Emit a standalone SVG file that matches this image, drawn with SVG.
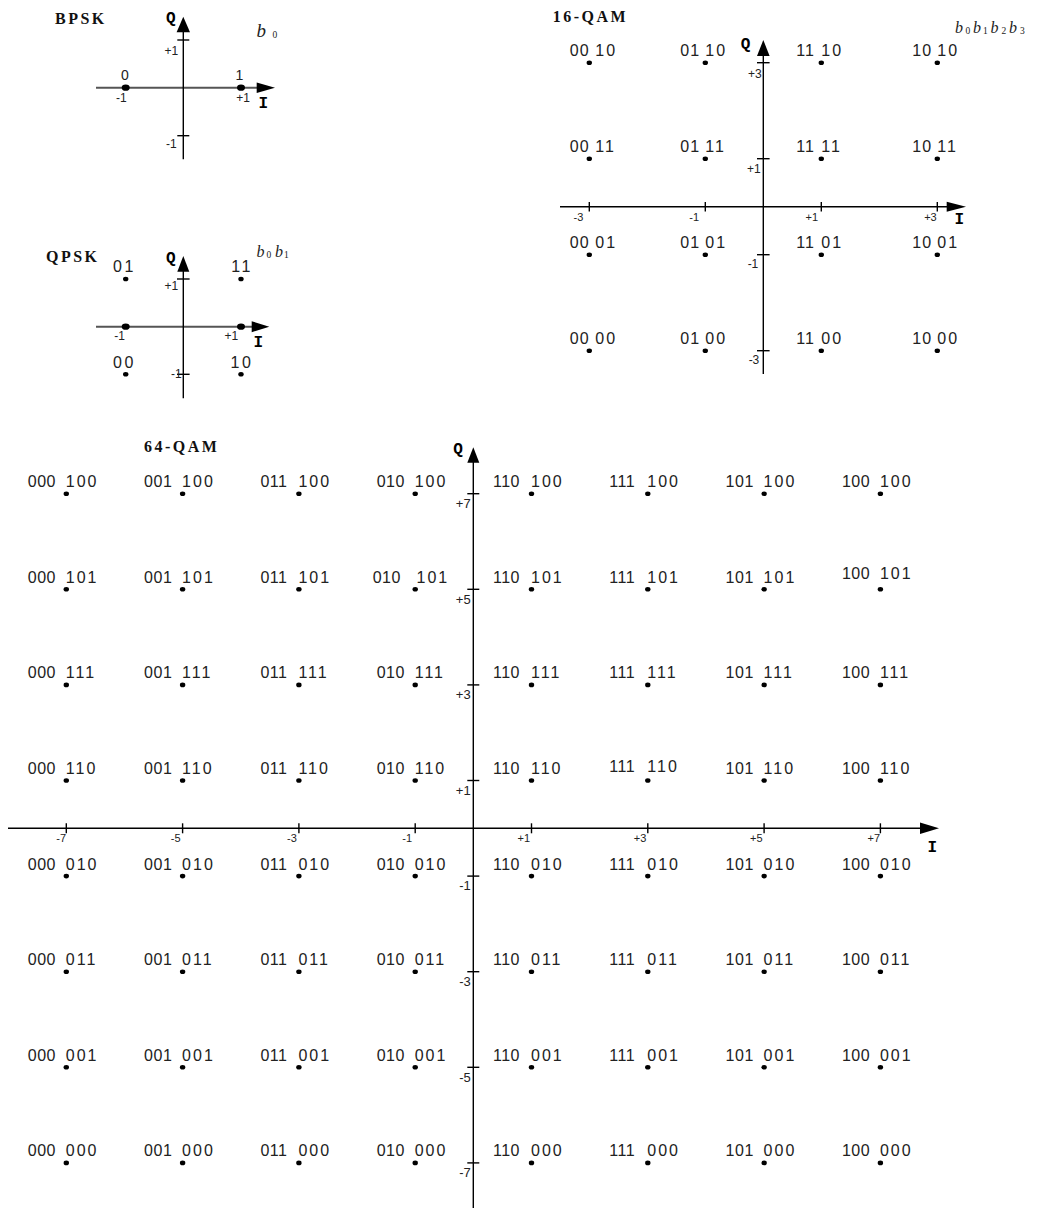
<svg xmlns="http://www.w3.org/2000/svg" width="1038" height="1209" viewBox="0 0 1038 1209">
<style>
.l{font-family:"Liberation Sans",Arial,sans-serif;font-size:16px;fill:#222}
.a{letter-spacing:0.5px}
.b{letter-spacing:2px}
.a2{letter-spacing:1px}
.ql{font-family:"Liberation Sans",Arial,sans-serif;font-size:16px;fill:#222;letter-spacing:2.5px;text-anchor:middle}
.tk{font-family:"Liberation Sans",Arial,sans-serif;font-size:12px;fill:#222;text-anchor:end}
.tq{font-family:"Liberation Sans",Arial,sans-serif;font-size:13px;fill:#222;text-anchor:end}
.ti{font-family:"Liberation Sans",Arial,sans-serif;font-size:11px;fill:#222;text-anchor:end}
.ttl{font-family:"Liberation Serif","Times New Roman",serif;font-weight:bold;font-size:16px;fill:#111;letter-spacing:2.5px}
.ax{font-family:"Liberation Mono","Courier New",monospace;font-weight:bold;font-size:16px;fill:#000;text-anchor:middle}
.bi{font-family:"Liberation Serif","Times New Roman",serif;font-style:italic;font-size:16px;fill:#222}
.sb{font-family:"Liberation Serif","Times New Roman",serif;font-size:9.5px;fill:#222}
.ln{stroke:#000;stroke-width:1.4;fill:none}
.lg{stroke:#555;stroke-width:2;fill:none}
.ar{fill:#000}
</style>
<defs>
<ellipse id="d1" cx="0" cy="0" rx="2.7" ry="2.3" fill="#000"/>
<ellipse id="d2" cx="0" cy="0" rx="4" ry="3.1" fill="#000"/>
</defs>

<g id="connectors">
<line class="lg" x1="96" y1="87.7" x2="258" y2="87.7"/>
<polygon class="ar" points="275,87.7 256.7,82.4 256.7,93"/>
<line class="ln" x1="183.3" y1="31" x2="183.3" y2="159.3"/>
<polygon class="ar" points="183.3,16.7 176.6,32.3 190,32.3"/>
<line class="ln" x1="177.3" y1="40" x2="189.3" y2="40"/>
<line class="ln" x1="177.3" y1="135.7" x2="189.3" y2="135.7"/>
<line class="lg" x1="96" y1="326.7" x2="253" y2="326.7"/>
<polygon class="ar" points="269.3,326.7 251.7,321.2 251.7,332.2"/>
<line class="ln" x1="183.3" y1="270.5" x2="183.3" y2="398.3"/>
<polygon class="ar" points="183.3,256 177.3,271.7 189.3,271.7"/>
<line class="ln" x1="177" y1="279" x2="189.6" y2="279"/>
<line class="ln" x1="177" y1="374.3" x2="189.6" y2="374.3"/>
<line class="ln" x1="560" y1="206.7" x2="948" y2="206.7"/>
<polygon class="ar" points="966,206.7 946.7,201.7 946.7,211.7"/>
<line class="ln" x1="763.3" y1="55" x2="763.3" y2="374"/>
<polygon class="ar" points="763.3,40 757,56 769.6,56"/>
<line class="ln" x1="757" y1="62.7" x2="769.6" y2="62.7"/>
<line class="ln" x1="757" y1="158.7" x2="769.6" y2="158.7"/>
<line class="ln" x1="757" y1="254.7" x2="769.6" y2="254.7"/>
<line class="ln" x1="757" y1="350.7" x2="769.6" y2="350.7"/>
<line class="ln" x1="589.3" y1="202" x2="589.3" y2="211.4"/>
<line class="ln" x1="705.3" y1="202" x2="705.3" y2="211.4"/>
<line class="ln" x1="821.3" y1="202" x2="821.3" y2="211.4"/>
<line class="ln" x1="937.3" y1="202" x2="937.3" y2="211.4"/>
<line class="ln" x1="8" y1="828.3" x2="921" y2="828.3"/>
<polygon class="ar" points="939,828.3 920,822.6 920,834"/>
<line class="ln" x1="473.3" y1="461" x2="473.3" y2="1208"/>
<polygon class="ar" points="473.3,447.3 467.3,462.7 479.3,462.7"/>
<line class="ln" x1="467.3" y1="493.7" x2="479.3" y2="493.7"/>
<line class="ln" x1="467.3" y1="589.3" x2="479.3" y2="589.3"/>
<line class="ln" x1="467.3" y1="684.9" x2="479.3" y2="684.9"/>
<line class="ln" x1="467.3" y1="780.5" x2="479.3" y2="780.5"/>
<line class="ln" x1="467.3" y1="876.1" x2="479.3" y2="876.1"/>
<line class="ln" x1="467.3" y1="971.7" x2="479.3" y2="971.7"/>
<line class="ln" x1="467.3" y1="1067.3" x2="479.3" y2="1067.3"/>
<line class="ln" x1="467.3" y1="1162.9" x2="479.3" y2="1162.9"/>
<line class="ln" x1="66.3" y1="823.3" x2="66.3" y2="833.3"/>
<line class="ln" x1="182.6" y1="823.3" x2="182.6" y2="833.3"/>
<line class="ln" x1="298.9" y1="823.3" x2="298.9" y2="833.3"/>
<line class="ln" x1="415.2" y1="823.3" x2="415.2" y2="833.3"/>
<line class="ln" x1="531.5" y1="823.3" x2="531.5" y2="833.3"/>
<line class="ln" x1="647.8" y1="823.3" x2="647.8" y2="833.3"/>
<line class="ln" x1="764.1" y1="823.3" x2="764.1" y2="833.3"/>
<line class="ln" x1="880.4" y1="823.3" x2="880.4" y2="833.3"/>
</g>

<g id="axis-labels">
<text class="ax" x="170.8" y="23">Q</text>
<text class="ax" x="263.3" y="108">I</text>
<text class="ax" x="170.8" y="263">Q</text>
<text class="ax" x="258.3" y="347">I</text>
<text class="ax" x="745.5" y="49">Q</text>
<text class="ax" x="959.3" y="224">I</text>
<text class="ax" x="458" y="454">Q</text>
<text class="ax" x="932.4" y="852">I</text>
<text class="tk" x="178.3" y="55">+1</text>
<text class="tk" x="176.7" y="148">-1</text>
<text class="tk" x="126.7" y="102">-1</text>
<text class="tk" x="250" y="102">+1</text>
<text class="tk" x="178.3" y="290">+1</text>
<text class="tk" x="181.7" y="377.5">-1</text>
<text class="tk" x="125" y="340">-1</text>
<text class="tk" x="238.3" y="340">+1</text>
<text class="tk" x="761.7" y="78">+3</text>
<text class="tk" x="760.7" y="173">+1</text>
<text class="tk" x="758.3" y="268">-1</text>
<text class="tk" x="759.3" y="364">-3</text>
<text class="ti" x="583.3" y="221">-3</text>
<text class="ti" x="699" y="221">-1</text>
<text class="ti" x="818" y="221">+1</text>
<text class="ti" x="936.7" y="221">+3</text>
<text class="tq" x="470.7" y="508">+7</text>
<text class="tq" x="470.7" y="603.6">+5</text>
<text class="tq" x="470.7" y="699.2">+3</text>
<text class="tq" x="470.7" y="794.8">+1</text>
<text class="tq" x="470.7" y="890.4">-1</text>
<text class="tq" x="470.7" y="986">-3</text>
<text class="tq" x="470.7" y="1081.6">-5</text>
<text class="tq" x="470.7" y="1177.2">-7</text>
<text class="ti" x="66" y="841.7">-7</text>
<text class="ti" x="180.6" y="841.7">-5</text>
<text class="ti" x="296.9" y="841.7">-3</text>
<text class="ti" x="412" y="841.7">-1</text>
<text class="ti" x="530" y="841.7">+1</text>
<text class="ti" x="646.3" y="841.7">+3</text>
<text class="ti" x="762.6" y="841.7">+5</text>
<text class="ti" x="880" y="841.7">+7</text>
</g>

<g id="titles">
<text class="ttl" x="55" y="24">BPSK</text>
<text class="ttl" x="46" y="261.7">QPSK</text>
<text class="ttl" x="552.7" y="21.7">16-QAM</text>
<text class="ttl" x="144" y="451.7">64-QAM</text>
<text><tspan class="bi" style="font-size:19px" x="256.5" y="36.7">b</tspan><tspan class="sb" x="272.5" y="38.3">0</tspan></text>
<text><tspan class="bi" x="256.5" y="256.5">b</tspan><tspan class="sb" x="266.5" y="258.3">0</tspan><tspan class="bi" x="275" y="256.5">b</tspan><tspan class="sb" x="284" y="258.3">1</tspan></text>
<text><tspan class="bi" x="955" y="33">b</tspan><tspan class="sb" x="965.5" y="33.5">0</tspan><tspan class="bi" x="973" y="33">b</tspan><tspan class="sb" x="983" y="33.5">1</tspan><tspan class="bi" x="990.5" y="33">b</tspan><tspan class="sb" x="1001.5" y="33.5">2</tspan><tspan class="bi" x="1009" y="33">b</tspan><tspan class="sb" x="1020" y="33.5">3</tspan></text>
</g>

<g id="bpsk">
<g id="bpsk_0"><use href="#d2" x="125.7" y="87.7"/><text class="l" style="font-size:14px" x="121" y="80">0</text></g>
<g id="bpsk_1"><use href="#d2" x="241" y="87.7"/><text class="l" style="font-size:14px" x="235.5" y="80">1</text></g>
</g>

<g id="qpsk">
<use href="#d2" x="125.7" y="326.7"/>
<use href="#d2" x="241" y="326.7"/>
<g id="qpsk_01"><use href="#d1" x="125.7" y="279"/><text class="ql" x="124.5" y="272.3">01</text></g>
<g id="qpsk_11"><use href="#d1" x="241" y="279"/><text class="ql" x="242" y="272.3">11</text></g>
<g id="qpsk_00"><use href="#d1" x="125.7" y="374.3"/><text class="ql" x="124.5" y="367.7">00</text></g>
<g id="qpsk_10"><use href="#d1" x="241" y="374.3"/><text class="ql" x="242" y="367.7">10</text></g>
</g>

<g id="qam16">
<g id="q16_00_10"><use href="#d1" x="589.3" y="62.7"/><text class="l" y="56.1"><tspan class="a2" x="569.8">00</tspan> <tspan class="b" x="595.3">10</tspan></text></g>
<g id="q16_01_10"><use href="#d1" x="705.3" y="62.7"/><text class="l" y="56.1"><tspan class="a2" x="680.3">01</tspan> <tspan class="b" x="705.3">10</tspan></text></g>
<g id="q16_11_10"><use href="#d1" x="821.3" y="62.7"/><text class="l" y="56.1"><tspan class="a2" x="796.3">11</tspan> <tspan class="b" x="821.3">10</tspan></text></g>
<g id="q16_10_10"><use href="#d1" x="937.3" y="62.7"/><text class="l" y="56.1"><tspan class="a2" x="912.3">10</tspan> <tspan class="b" x="937.3">10</tspan></text></g>
<g id="q16_00_11"><use href="#d1" x="589.3" y="158.7"/><text class="l" y="152.1"><tspan class="a2" x="569.8">00</tspan> <tspan class="b" x="595.3">11</tspan></text></g>
<g id="q16_01_11"><use href="#d1" x="705.3" y="158.7"/><text class="l" y="152.1"><tspan class="a2" x="680.3">01</tspan> <tspan class="b" x="705.3">11</tspan></text></g>
<g id="q16_11_11"><use href="#d1" x="821.3" y="158.7"/><text class="l" y="152.1"><tspan class="a2" x="796.3">11</tspan> <tspan class="b" x="821.3">11</tspan></text></g>
<g id="q16_10_11"><use href="#d1" x="937.3" y="158.7"/><text class="l" y="152.1"><tspan class="a2" x="912.3">10</tspan> <tspan class="b" x="937.3">11</tspan></text></g>
<g id="q16_00_01"><use href="#d1" x="589.3" y="254.7"/><text class="l" y="248.1"><tspan class="a2" x="569.8">00</tspan> <tspan class="b" x="595.3">01</tspan></text></g>
<g id="q16_01_01"><use href="#d1" x="705.3" y="254.7"/><text class="l" y="248.1"><tspan class="a2" x="680.3">01</tspan> <tspan class="b" x="705.3">01</tspan></text></g>
<g id="q16_11_01"><use href="#d1" x="821.3" y="254.7"/><text class="l" y="248.1"><tspan class="a2" x="796.3">11</tspan> <tspan class="b" x="821.3">01</tspan></text></g>
<g id="q16_10_01"><use href="#d1" x="937.3" y="254.7"/><text class="l" y="248.1"><tspan class="a2" x="912.3">10</tspan> <tspan class="b" x="937.3">01</tspan></text></g>
<g id="q16_00_00"><use href="#d1" x="589.3" y="350.7"/><text class="l" y="344.1"><tspan class="a2" x="569.8">00</tspan> <tspan class="b" x="595.3">00</tspan></text></g>
<g id="q16_01_00"><use href="#d1" x="705.3" y="350.7"/><text class="l" y="344.1"><tspan class="a2" x="680.3">01</tspan> <tspan class="b" x="705.3">00</tspan></text></g>
<g id="q16_11_00"><use href="#d1" x="821.3" y="350.7"/><text class="l" y="344.1"><tspan class="a2" x="796.3">11</tspan> <tspan class="b" x="821.3">00</tspan></text></g>
<g id="q16_10_00"><use href="#d1" x="937.3" y="350.7"/><text class="l" y="344.1"><tspan class="a2" x="912.3">10</tspan> <tspan class="b" x="937.3">00</tspan></text></g>
</g>

<g id="qam64">
<g id="q64_000_100"><use href="#d1" x="66.3" y="493.7"/><text class="l" y="487.2"><tspan class="a" x="27.8">000</tspan> <tspan class="b" x="65.8">100</tspan></text></g>
<g id="q64_001_100"><use href="#d1" x="182.6" y="493.7"/><text class="l" y="487.2"><tspan class="a" x="144.1">001</tspan> <tspan class="b" x="182.1">100</tspan></text></g>
<g id="q64_011_100"><use href="#d1" x="298.9" y="493.7"/><text class="l" y="487.2"><tspan class="a" x="260.4">011</tspan> <tspan class="b" x="298.4">100</tspan></text></g>
<g id="q64_010_100"><use href="#d1" x="415.2" y="493.7"/><text class="l" y="487.2"><tspan class="a" x="376.7">010</tspan> <tspan class="b" x="414.7">100</tspan></text></g>
<g id="q64_110_100"><use href="#d1" x="531.5" y="493.7"/><text class="l" y="487.2"><tspan class="a" x="493">110</tspan> <tspan class="b" x="531">100</tspan></text></g>
<g id="q64_111_100"><use href="#d1" x="647.8" y="493.7"/><text class="l" y="487.2"><tspan class="a" x="609.3">111</tspan> <tspan class="b" x="647.3">100</tspan></text></g>
<g id="q64_101_100"><use href="#d1" x="764.1" y="493.7"/><text class="l" y="487.2"><tspan class="a" x="725.6">101</tspan> <tspan class="b" x="763.6">100</tspan></text></g>
<g id="q64_100_100"><use href="#d1" x="880.4" y="493.7"/><text class="l" y="487.2"><tspan class="a" x="841.9">100</tspan> <tspan class="b" x="879.9">100</tspan></text></g>

<g id="q64_000_101"><use href="#d1" x="66.3" y="589.3"/><text class="l" y="582.8"><tspan class="a" x="27.8">000</tspan> <tspan class="b" x="65.8">101</tspan></text></g>
<g id="q64_001_101"><use href="#d1" x="182.6" y="589.3"/><text class="l" y="582.8"><tspan class="a" x="144.1">001</tspan> <tspan class="b" x="182.1">101</tspan></text></g>
<g id="q64_011_101"><use href="#d1" x="298.9" y="589.3"/><text class="l" y="582.8"><tspan class="a" x="260.4">011</tspan> <tspan class="b" x="298.4">101</tspan></text></g>
<g id="q64_010_101"><use href="#d1" x="415.2" y="589.3"/><text class="l" y="582.8"><tspan class="a" x="372.7">010</tspan> <tspan class="b" x="416.5">101</tspan></text></g>
<g id="q64_110_101"><use href="#d1" x="531.5" y="589.3"/><text class="l" y="582.8"><tspan class="a" x="493">110</tspan> <tspan class="b" x="531">101</tspan></text></g>
<g id="q64_111_101"><use href="#d1" x="647.8" y="589.3"/><text class="l" y="582.8"><tspan class="a" x="609.3">111</tspan> <tspan class="b" x="647.3">101</tspan></text></g>
<g id="q64_101_101"><use href="#d1" x="764.1" y="589.3"/><text class="l" y="582.8"><tspan class="a" x="725.6">101</tspan> <tspan class="b" x="763.6">101</tspan></text></g>
<g id="q64_100_101"><use href="#d1" x="880.4" y="589.3"/><text class="l" y="579.2"><tspan class="a" x="841.9">100</tspan> <tspan class="b" x="879.9">101</tspan></text></g>

<g id="q64_000_111"><use href="#d1" x="66.3" y="684.9"/><text class="l" y="678.4"><tspan class="a" x="27.8">000</tspan> <tspan class="b" x="65.8">111</tspan></text></g>
<g id="q64_001_111"><use href="#d1" x="182.6" y="684.9"/><text class="l" y="678.4"><tspan class="a" x="144.1">001</tspan> <tspan class="b" x="182.1">111</tspan></text></g>
<g id="q64_011_111"><use href="#d1" x="298.9" y="684.9"/><text class="l" y="678.4"><tspan class="a" x="260.4">011</tspan> <tspan class="b" x="298.4">111</tspan></text></g>
<g id="q64_010_111"><use href="#d1" x="415.2" y="684.9"/><text class="l" y="678.4"><tspan class="a" x="376.7">010</tspan> <tspan class="b" x="414.7">111</tspan></text></g>
<g id="q64_110_111"><use href="#d1" x="531.5" y="684.9"/><text class="l" y="678.4"><tspan class="a" x="493">110</tspan> <tspan class="b" x="531">111</tspan></text></g>
<g id="q64_111_111"><use href="#d1" x="647.8" y="684.9"/><text class="l" y="678.4"><tspan class="a" x="609.3">111</tspan> <tspan class="b" x="647.3">111</tspan></text></g>
<g id="q64_101_111"><use href="#d1" x="764.1" y="684.9"/><text class="l" y="678.4"><tspan class="a" x="725.6">101</tspan> <tspan class="b" x="763.6">111</tspan></text></g>
<g id="q64_100_111"><use href="#d1" x="880.4" y="684.9"/><text class="l" y="678.4"><tspan class="a" x="841.9">100</tspan> <tspan class="b" x="879.9">111</tspan></text></g>

<g id="q64_000_110"><use href="#d1" x="66.3" y="780.5"/><text class="l" y="774"><tspan class="a" x="27.8">000</tspan> <tspan class="b" x="65.8">110</tspan></text></g>
<g id="q64_001_110"><use href="#d1" x="182.6" y="780.5"/><text class="l" y="774"><tspan class="a" x="144.1">001</tspan> <tspan class="b" x="182.1">110</tspan></text></g>
<g id="q64_011_110"><use href="#d1" x="298.9" y="780.5"/><text class="l" y="774"><tspan class="a" x="260.4">011</tspan> <tspan class="b" x="298.4">110</tspan></text></g>
<g id="q64_010_110"><use href="#d1" x="415.2" y="780.5"/><text class="l" y="774"><tspan class="a" x="376.7">010</tspan> <tspan class="b" x="414.7">110</tspan></text></g>
<g id="q64_110_110"><use href="#d1" x="531.5" y="780.5"/><text class="l" y="774"><tspan class="a" x="493">110</tspan> <tspan class="b" x="531">110</tspan></text></g>
<g id="q64_111_110"><use href="#d1" x="647.8" y="780.5"/><text class="l" y="771.8"><tspan class="a" x="609.3">111</tspan> <tspan class="b" x="647.3">110</tspan></text></g>
<g id="q64_101_110"><use href="#d1" x="764.1" y="780.5"/><text class="l" y="774"><tspan class="a" x="725.6">101</tspan> <tspan class="b" x="763.6">110</tspan></text></g>
<g id="q64_100_110"><use href="#d1" x="880.4" y="780.5"/><text class="l" y="774"><tspan class="a" x="841.9">100</tspan> <tspan class="b" x="879.9">110</tspan></text></g>

<g id="q64_000_010"><use href="#d1" x="66.3" y="876.1"/><text class="l" y="869.6"><tspan class="a" x="27.8">000</tspan> <tspan class="b" x="65.8">010</tspan></text></g>
<g id="q64_001_010"><use href="#d1" x="182.6" y="876.1"/><text class="l" y="869.6"><tspan class="a" x="144.1">001</tspan> <tspan class="b" x="182.1">010</tspan></text></g>
<g id="q64_011_010"><use href="#d1" x="298.9" y="876.1"/><text class="l" y="869.6"><tspan class="a" x="260.4">011</tspan> <tspan class="b" x="298.4">010</tspan></text></g>
<g id="q64_010_010"><use href="#d1" x="415.2" y="876.1"/><text class="l" y="869.6"><tspan class="a" x="376.7">010</tspan> <tspan class="b" x="414.7">010</tspan></text></g>
<g id="q64_110_010"><use href="#d1" x="531.5" y="876.1"/><text class="l" y="869.6"><tspan class="a" x="493">110</tspan> <tspan class="b" x="531">010</tspan></text></g>
<g id="q64_111_010"><use href="#d1" x="647.8" y="876.1"/><text class="l" y="869.6"><tspan class="a" x="609.3">111</tspan> <tspan class="b" x="647.3">010</tspan></text></g>
<g id="q64_101_010"><use href="#d1" x="764.1" y="876.1"/><text class="l" y="869.6"><tspan class="a" x="725.6">101</tspan> <tspan class="b" x="763.6">010</tspan></text></g>
<g id="q64_100_010"><use href="#d1" x="880.4" y="876.1"/><text class="l" y="869.6"><tspan class="a" x="841.9">100</tspan> <tspan class="b" x="879.9">010</tspan></text></g>

<g id="q64_000_011"><use href="#d1" x="66.3" y="971.7"/><text class="l" y="965.2"><tspan class="a" x="27.8">000</tspan> <tspan class="b" x="65.8">011</tspan></text></g>
<g id="q64_001_011"><use href="#d1" x="182.6" y="971.7"/><text class="l" y="965.2"><tspan class="a" x="144.1">001</tspan> <tspan class="b" x="182.1">011</tspan></text></g>
<g id="q64_011_011"><use href="#d1" x="298.9" y="971.7"/><text class="l" y="965.2"><tspan class="a" x="260.4">011</tspan> <tspan class="b" x="298.4">011</tspan></text></g>
<g id="q64_010_011"><use href="#d1" x="415.2" y="971.7"/><text class="l" y="965.2"><tspan class="a" x="376.7">010</tspan> <tspan class="b" x="414.7">011</tspan></text></g>
<g id="q64_110_011"><use href="#d1" x="531.5" y="971.7"/><text class="l" y="965.2"><tspan class="a" x="493">110</tspan> <tspan class="b" x="531">011</tspan></text></g>
<g id="q64_111_011"><use href="#d1" x="647.8" y="971.7"/><text class="l" y="965.2"><tspan class="a" x="609.3">111</tspan> <tspan class="b" x="647.3">011</tspan></text></g>
<g id="q64_101_011"><use href="#d1" x="764.1" y="971.7"/><text class="l" y="965.2"><tspan class="a" x="725.6">101</tspan> <tspan class="b" x="763.6">011</tspan></text></g>
<g id="q64_100_011"><use href="#d1" x="880.4" y="971.7"/><text class="l" y="965.2"><tspan class="a" x="841.9">100</tspan> <tspan class="b" x="879.9">011</tspan></text></g>

<g id="q64_000_001"><use href="#d1" x="66.3" y="1067.3"/><text class="l" y="1060.8"><tspan class="a" x="27.8">000</tspan> <tspan class="b" x="65.8">001</tspan></text></g>
<g id="q64_001_001"><use href="#d1" x="182.6" y="1067.3"/><text class="l" y="1060.8"><tspan class="a" x="144.1">001</tspan> <tspan class="b" x="182.1">001</tspan></text></g>
<g id="q64_011_001"><use href="#d1" x="298.9" y="1067.3"/><text class="l" y="1060.8"><tspan class="a" x="260.4">011</tspan> <tspan class="b" x="298.4">001</tspan></text></g>
<g id="q64_010_001"><use href="#d1" x="415.2" y="1067.3"/><text class="l" y="1060.8"><tspan class="a" x="376.7">010</tspan> <tspan class="b" x="414.7">001</tspan></text></g>
<g id="q64_110_001"><use href="#d1" x="531.5" y="1067.3"/><text class="l" y="1060.8"><tspan class="a" x="493">110</tspan> <tspan class="b" x="531">001</tspan></text></g>
<g id="q64_111_001"><use href="#d1" x="647.8" y="1067.3"/><text class="l" y="1060.8"><tspan class="a" x="609.3">111</tspan> <tspan class="b" x="647.3">001</tspan></text></g>
<g id="q64_101_001"><use href="#d1" x="764.1" y="1067.3"/><text class="l" y="1060.8"><tspan class="a" x="725.6">101</tspan> <tspan class="b" x="763.6">001</tspan></text></g>
<g id="q64_100_001"><use href="#d1" x="880.4" y="1067.3"/><text class="l" y="1060.8"><tspan class="a" x="841.9">100</tspan> <tspan class="b" x="879.9">001</tspan></text></g>

<g id="q64_000_000"><use href="#d1" x="66.3" y="1162.9"/><text class="l" y="1156.4"><tspan class="a" x="27.8">000</tspan> <tspan class="b" x="65.8">000</tspan></text></g>
<g id="q64_001_000"><use href="#d1" x="182.6" y="1162.9"/><text class="l" y="1156.4"><tspan class="a" x="144.1">001</tspan> <tspan class="b" x="182.1">000</tspan></text></g>
<g id="q64_011_000"><use href="#d1" x="298.9" y="1162.9"/><text class="l" y="1156.4"><tspan class="a" x="260.4">011</tspan> <tspan class="b" x="298.4">000</tspan></text></g>
<g id="q64_010_000"><use href="#d1" x="415.2" y="1162.9"/><text class="l" y="1156.4"><tspan class="a" x="376.7">010</tspan> <tspan class="b" x="414.7">000</tspan></text></g>
<g id="q64_110_000"><use href="#d1" x="531.5" y="1162.9"/><text class="l" y="1156.4"><tspan class="a" x="493">110</tspan> <tspan class="b" x="531">000</tspan></text></g>
<g id="q64_111_000"><use href="#d1" x="647.8" y="1162.9"/><text class="l" y="1156.4"><tspan class="a" x="609.3">111</tspan> <tspan class="b" x="647.3">000</tspan></text></g>
<g id="q64_101_000"><use href="#d1" x="764.1" y="1162.9"/><text class="l" y="1156.4"><tspan class="a" x="725.6">101</tspan> <tspan class="b" x="763.6">000</tspan></text></g>
<g id="q64_100_000"><use href="#d1" x="880.4" y="1162.9"/><text class="l" y="1156.4"><tspan class="a" x="841.9">100</tspan> <tspan class="b" x="879.9">000</tspan></text></g>
</g>
</svg>
